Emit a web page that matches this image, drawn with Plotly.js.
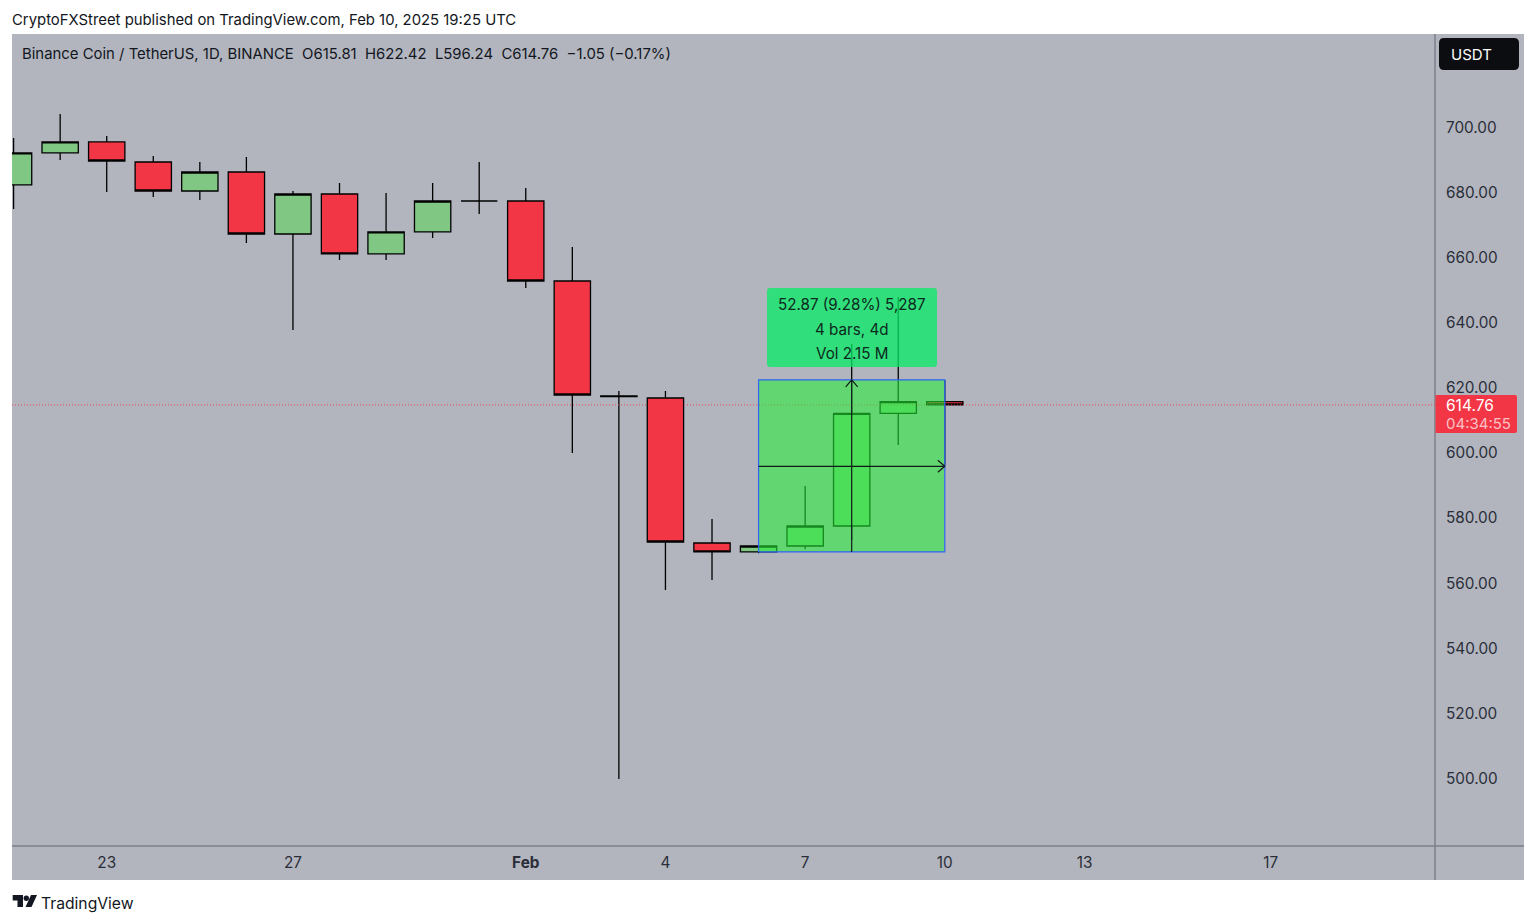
<!DOCTYPE html>
<html><head><meta charset="utf-8">
<script src="https://cdn.plot.ly/plotly-3.0.1.min.js"></script>
<style>html,body{margin:0;padding:0;background:#fff}#c{width:1536px;height:923px}</style>
</head><body><div id="c"></div>
<script>
const dates = ['2025-01-21','2025-01-22','2025-01-23','2025-01-24','2025-01-25','2025-01-26','2025-01-27','2025-01-28','2025-01-29','2025-01-30','2025-01-31','2025-02-01','2025-02-02','2025-02-03','2025-02-04','2025-02-05','2025-02-06','2025-02-07','2025-02-08','2025-02-09','2025-02-10'];
const opens  = [682.34,692.17,695.55,689.40,680.49,686.33,667.28,679.57,661.14,667.90,677.42,677.42,652.84,617.50,616.90,572.35,569.59,571.43,577.57,612.14,615.81];
const highs  = [696.77,704.15,697.39,691.24,689.40,690.94,680.49,682.95,679.88,682.95,689.40,681.41,663.29,619.05,619.05,579.72,571.60,589.86,633.49,647.93,622.42];
const lows   = [674.96,690.02,680.18,678.65,677.73,664.52,637.79,659.29,659.29,666.05,673.43,650.69,600.00,499.85,557.91,560.99,569.20,570.51,573.27,602.46,596.24];
const closes = [692.17,695.55,689.71,680.49,686.33,667.28,679.57,661.14,667.90,677.42,677.42,652.84,617.82,617.36,572.66,569.59,571.43,577.57,612.14,615.81,614.76];
const xTickVals = ['2025-01-23','2025-01-27','2025-02-01','2025-02-04','2025-02-07','2025-02-10','2025-02-13','2025-02-17'];
const xTickText = ['23','27','<b>Feb</b>','4','7','10','13','17'];
const yTickVals = [500,520,540,560,580,600,620,640,660,680,700];
const lastPrice = 614.76;
const toolStart = '2025-02-06', toolMid = '2025-02-08', toolEnd = '2025-02-10';
const toolLow = 569.6, toolHigh = 622.47, toolMidPrice = 595.9;
const headerText = 'CryptoFXStreet published on TradingView.com, Feb 10, 2025 19:25 UTC';
const legendText = 'Binance Coin / TetherUS, 1D, BINANCE  O615.81  H622.42  L596.24  C614.76  −1.05 (−0.17%)';
const toolLines = ['52.87 (9.28%) 5,287','4 bars, 4d','Vol 2.15 M'];

const FONT = 'Inter, "Noto Sans", sans-serif';
const L=12,R=1435,T=34,B=846;
const px = x => (x-L)/(R-L);
const py = y => 1-(y-T)/(B-T);
const P = {xref:'paper',yref:'paper'};
function rr(x0,y0,x1,y1,r){
  const rl=Array.isArray(r)?r[0]:r, rr_=Array.isArray(r)?r[1]:r;
  const c=(x,y)=>px(x)+','+py(y);
  return 'M'+c(x0+rl,y0)+' L'+c(x1-rr_,y0)+' Q'+c(x1,y0)+' '+c(x1,y0+rr_)+' L'+c(x1,y1-rr_)+' Q'+c(x1,y1)+' '+c(x1-rr_,y1)+' L'+c(x0+rl,y1)+' Q'+c(x0,y1)+' '+c(x0,y1-rl)+' L'+c(x0,y0+rl)+' Q'+c(x0,y0)+' '+c(x0+rl,y0)+' Z';
}
function poly(pts){return 'M'+pts.map(p=>px(p[0])+','+py(p[1])).join(' L')+' Z';}
const axisCol='#7d808b';
const shapes=[
  {type:'rect',...P,x0:1,x1:px(1524),y0:py(880),y1:1,fillcolor:'#b2b5be',line:{width:0},layer:'below'},
  {type:'rect',...P,x0:0,x1:1,y0:py(880),y1:0,fillcolor:'#b2b5be',line:{width:0},layer:'below'},
  {type:'line',...P,x0:1,x1:1,y0:py(880),y1:1,line:{color:axisCol,width:1.5},layer:'above'},
  {type:'line',...P,x0:0,x1:px(1524),y0:0,y1:0,line:{color:axisCol,width:1.5},layer:'above'},
  {type:'line',xref:'paper',yref:'y',x0:0,x1:1,y0:lastPrice,y1:lastPrice,line:{color:'rgba(242,54,69,0.85)',width:1,dash:'1px,2px'},layer:'above'},
  {type:'rect',xref:'x',yref:'y',x0:toolStart,x1:toolEnd,y0:toolLow,y1:toolHigh,fillcolor:'rgba(37,240,54,0.57)',line:{color:'#2f62f5',width:1.2},layer:'above'},
  {type:'line',xref:'x',yref:'y',x0:toolMid,x1:toolMid,y0:toolLow,y1:toolHigh,line:{color:'#10181a',width:1.2},layer:'above'},
  {type:'line',xref:'x',yref:'y',x0:toolStart,x1:toolEnd,y0:toolMidPrice,y1:toolMidPrice,line:{color:'#10181a',width:1.2},layer:'above'},
  {type:'path',xref:'x',yref:'y',xsizemode:'pixel',ysizemode:'pixel',xanchor:toolMid,yanchor:toolHigh,path:'M-6,-7 L0,0 L6,-7',line:{color:'#10181a',width:1.2},layer:'above'},
  {type:'path',xref:'x',yref:'y',xsizemode:'pixel',ysizemode:'pixel',xanchor:toolEnd,yanchor:toolMidPrice,path:'M-7,-6 L0,0 L-7,6',line:{color:'#10181a',width:1.2},layer:'above'},
  {type:'path',...P,path:rr(767,288,937,367,3),fillcolor:'rgba(5,236,101,0.75)',line:{width:0},layer:'above'},
  {type:'path',...P,path:rr(1439,38,1519,70,5),fillcolor:'#0c0d10',line:{width:0},layer:'above'},
  {type:'path',...P,path:rr(1435.5,395,1517,433,[0,2]),fillcolor:'#f23645',line:{width:0},layer:'above'},
  {type:'path',...P,path:poly([[12.7,895],[23,895],[23,907],[17.5,907],[17.5,900.5],[12.7,900.5]]),fillcolor:'#131722',line:{width:0}},
  {type:'circle',...P,x0:px(23.6),x1:px(29),y0:py(901),y1:py(895.6),fillcolor:'#131722',line:{width:0}},
  {type:'path',...P,path:poly([[31,895],[37,895],[31.5,907],[25.5,907]]),fillcolor:'#131722',line:{width:0}}
];
const ann=(x,y,text,size,color,anchor)=>({xref:'paper',yref:'paper',x:px(x),y:py(y),text,showarrow:false,xanchor:anchor||'left',yanchor:'middle',font:{family:FONT,size,color},align:anchor||'left'});
const annotations=[
  ann(10,20,headerText,14.87,'#131722'),
  ann(20,54,legendText.replace(/ /g,'\u00a0'),14.9,'#131722'),
  ann(1449,54.5,'USDT',15,'#ffffff'),
  ann(1444,405,lastPrice.toFixed(2),15.5,'#ffffff'),
  ann(1444,423,'04:34:55',15,'rgba(255,255,255,0.7)'),
  ann(39,903,'TradingView',15.7,'#131722'),
  ann(852,304,toolLines[0],15.2,'#0c2a1c','center'),
  ann(852,329,toolLines[1],15.2,'#0c2a1c','center'),
  ann(852,354,toolLines[2],15.2,'#0c2a1c','center')
];
Plotly.newPlot('c',[{
  type:'candlestick',x:dates,open:opens,high:highs,low:lows,close:closes,
  whiskerwidth:0,hoverinfo:'none',
  increasing:{fillcolor:'#81c784',line:{color:'#000000',width:1.3}},
  decreasing:{fillcolor:'#f23645',line:{color:'#000000',width:1.3}}
}],{
  width:1536,height:923,
  margin:{l:L,r:1536-R,t:T,b:923-B,pad:0},
  paper_bgcolor:'#ffffff',plot_bgcolor:'#b2b5be',
  showlegend:false,boxgap:0.22,boxgroupgap:0,
  font:{family:FONT,size:15.3,color:'#2a2e39'},
  xaxis:{type:'date',range:['2025-01-20 23:11','2025-02-20 12:40'],rangeslider:{visible:false},
    tickmode:'array',tickvals:xTickVals,ticktext:xTickText,showgrid:false,zeroline:false,showline:false,ticks:'',ticklabelstandoff:6,tickangle:0,
    tickfont:{family:FONT,size:15.3,color:'#2a2e39'}},
  yaxis:{side:'right',range:[479.26,728.72],tickmode:'array',tickvals:yTickVals,tickformat:'.2f',showgrid:false,zeroline:false,showline:false,ticks:'',ticklabelstandoff:10,
    tickfont:{family:FONT,size:15.3,color:'#2a2e39'}},
  shapes,annotations
},{displayModeBar:false,staticPlot:true});
</script></body></html>
